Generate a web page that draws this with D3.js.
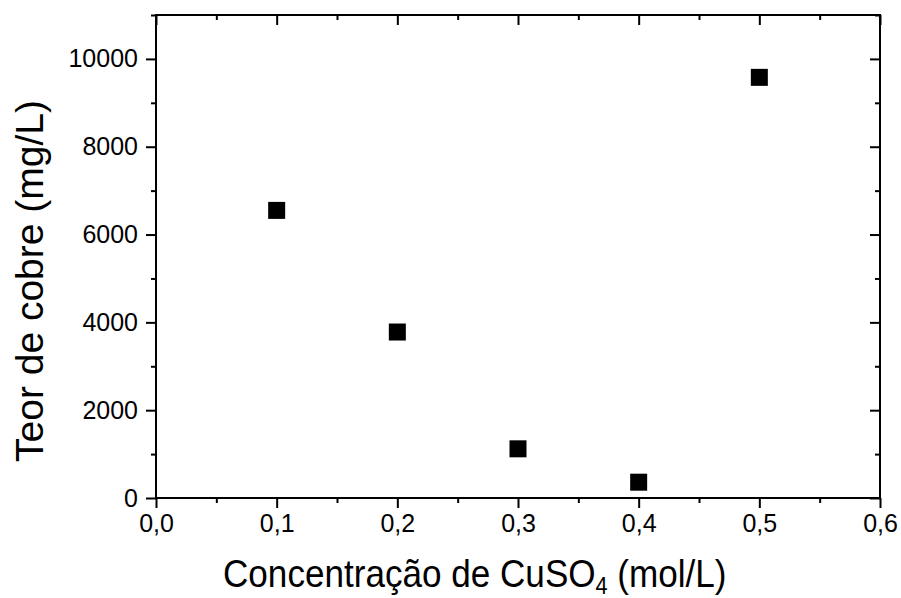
<!DOCTYPE html>
<html>
<head>
<meta charset="utf-8">
<script src="https://cdn.jsdelivr.net/npm/d3@7"></script>
<style>
  body { margin: 0; background: #fff; }
  text { font-family: "Liberation Sans", Arial, sans-serif; fill: #000; }
  .axis path, .axis line { stroke: #000; stroke-width: 2; }
  .axis text { font-size: 25px; }
</style>
</head>
<body>
<svg id="chart" width="901" height="598"></svg>
<script>
// data
var concentration = [0.1, 0.2, 0.3, 0.4, 0.5];
var copper = [6550, 3780, 1120, 360, 9580];

var xMajor = [0, 0.1, 0.2, 0.3, 0.4, 0.5, 0.6];
var xMinor = [0.05, 0.15, 0.25, 0.35, 0.45, 0.55];
var yMajor = [0, 2000, 4000, 6000, 8000, 10000];
var yMinor = [1000, 3000, 5000, 7000, 9000, 11000];

(function() {
    var left = 156, right = 880, top = 15, bottom = 498;

    var svg = d3.select("#chart");

    var x = d3.scaleLinear().domain([0, 0.6]).range([left, right]);
    var y = d3.scaleLinear().domain([0, 11000]).range([bottom, top]);

    // comma as decimal mark
    var fmt = d3.formatLocale({decimal: ",", thousands: "", grouping: [3], currency: ["", ""]}).format(".1f");

    // frame
    svg.append("rect")
        .attr("x", left).attr("y", top)
        .attr("width", right - left).attr("height", bottom - top)
        .attr("fill", "none").attr("stroke", "#000").attr("stroke-width", 2);

    function addAxis(axis, tx, ty) {
        var g = svg.append("g").attr("class", "axis")
            .attr("transform", "translate(" + tx + "," + ty + ")")
            .call(axis);
        g.select(".domain").remove();
        return g;
    }

    // bottom + left: ticks out, with labels
    addAxis(d3.axisBottom(x).tickValues(xMajor).tickSize(10).tickPadding(6).tickFormat(fmt), 0, bottom);
    addAxis(d3.axisBottom(x).tickValues(xMinor).tickSize(5).tickFormat(""), 0, bottom);
    addAxis(d3.axisLeft(y).tickValues(yMajor).tickSize(10).tickPadding(8).tickFormat(d3.format("d")), left, 0);
    addAxis(d3.axisLeft(y).tickValues(yMinor).tickSize(5).tickFormat(""), left, 0);

    // top + right: ticks in, no labels
    addAxis(d3.axisTop(x).tickValues(xMajor).tickSize(-10).tickFormat(""), 0, top);
    addAxis(d3.axisTop(x).tickValues(xMinor).tickSize(-5).tickFormat(""), 0, top);
    addAxis(d3.axisRight(y).tickValues(yMajor).tickSize(-10).tickFormat(""), right, 0);
    addAxis(d3.axisRight(y).tickValues(yMinor).tickSize(-5).tickFormat(""), right, 0);

    // square markers
    var size = 17;
    svg.append("g")
        .selectAll("rect")
        .data(concentration)
        .enter()
        .append("rect")
            .attr("x", function(d) { return x(d) - size / 2; })
            .attr("y", function(d, i) { return y(copper[i]) - size / 2; })
            .attr("width", size)
            .attr("height", size)
            .attr("fill", "#000");

    // axis titles
    var xt = svg.append("text")
        .attr("transform", "translate(223,587) scale(0.9,1)")
        .style("font-size", "39px");
    xt.append("tspan").text("Concentração de CuSO");
    xt.append("tspan").attr("dy", 7).style("font-size", "24px").text("4");
    xt.append("tspan").attr("dy", -7).text(" (mol/L)");

    svg.append("text")
        .attr("transform", "translate(43,281) rotate(-90)")
        .attr("text-anchor", "middle")
        .style("font-size", "39px")
        .text("Teor de cobre (mg/L)");
})();
</script>
</body>
</html>
